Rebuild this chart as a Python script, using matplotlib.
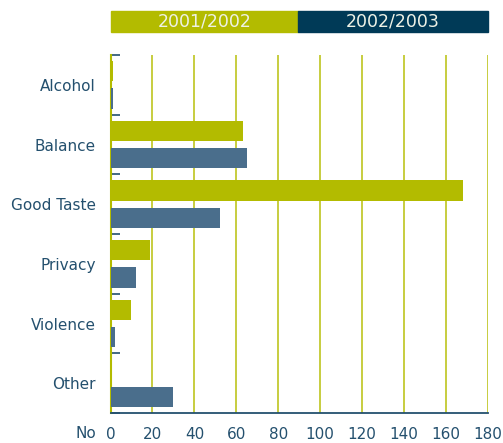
import matplotlib
matplotlib.use("Agg")
import matplotlib.pyplot as plt
from matplotlib.patches import Rectangle
import numpy as np

categories = ["Alcohol", "Balance", "Good Taste", "Privacy", "Violence", "Other"]
series_names = ["2001/2002", "2002/2003"]
vals_2001 = [1, 63, 168, 19, 10, 0]
vals_2002 = [1, 65, 52, 12, 2, 30]
xticks = [0, 20, 40, 60, 80, 100, 120, 140, 160, 180]

green = "#b3bb00"
blue = "#4a6e8c"
navy = "#003a57"
txt = "#24506e"
grid = "#c3c930"

fig = plt.figure(figsize=(5.03, 4.43), dpi=100)
W, H = 503, 443
ax = fig.add_axes([110.5 / W, 1 - 413 / H, (488 - 110.5) / W, (413 - 55) / H])

y = np.arange(len(categories))
h = 0.34
ax.barh(y - 0.228, vals_2001, height=h, color=green, zorder=3)
ax.barh(y + 0.228, vals_2002, height=h, color=blue, zorder=3)

ax.set_xlim(0, 180)
ax.set_ylim(len(categories) - 0.5, -0.5)
ax.set_xticks(xticks)
ax.set_xticklabels([str(v) for v in xticks])
ax.set_yticks(y)
ax.set_yticklabels(categories)
ax.tick_params(axis="y", length=0, pad=10.5, labelsize=11, labelcolor=txt)
ax.tick_params(axis="x", length=0, pad=10, labelsize=11, labelcolor=txt)
ax.set_yticks(np.arange(-0.5, len(categories) + 0.5, 1), minor=True)
ax.tick_params(axis="y", which="minor", direction="in", length=6.5, width=1.2, color=txt)

for v in xticks[1:]:
    ax.axvline(v, color=grid, lw=1.3, zorder=1)

for s in ["top", "right"]:
    ax.spines[s].set_visible(False)
ax.spines["left"].set_color(green)
ax.spines["left"].set_linewidth(1.5)
ax.spines["bottom"].set_color(txt)
ax.spines["bottom"].set_linewidth(1.3)

fig.text(96 / W, 1 - 433 / H, "No", ha="right", va="center", fontsize=11, color=txt)

# legend bar
x0, xm, x1 = 111 / W, 298 / W, 488 / W
yb, yt = 1 - 32 / H, 1 - 11 / H
fig.patches.append(Rectangle((x0, yb), xm - x0, yt - yb, transform=fig.transFigure, color=green))
fig.patches.append(Rectangle((xm, yb), x1 - xm, yt - yb, transform=fig.transFigure, color=navy))
fig.text((x0 + xm) / 2, (yb + yt) / 2, series_names[0], ha="center", va="center", fontsize=12.5, color="#eef2e6")
fig.text((xm + x1) / 2, (yb + yt) / 2, series_names[1], ha="center", va="center", fontsize=12.5, color="#eef2e6")

fig.savefig("out.png", dpi=100)
